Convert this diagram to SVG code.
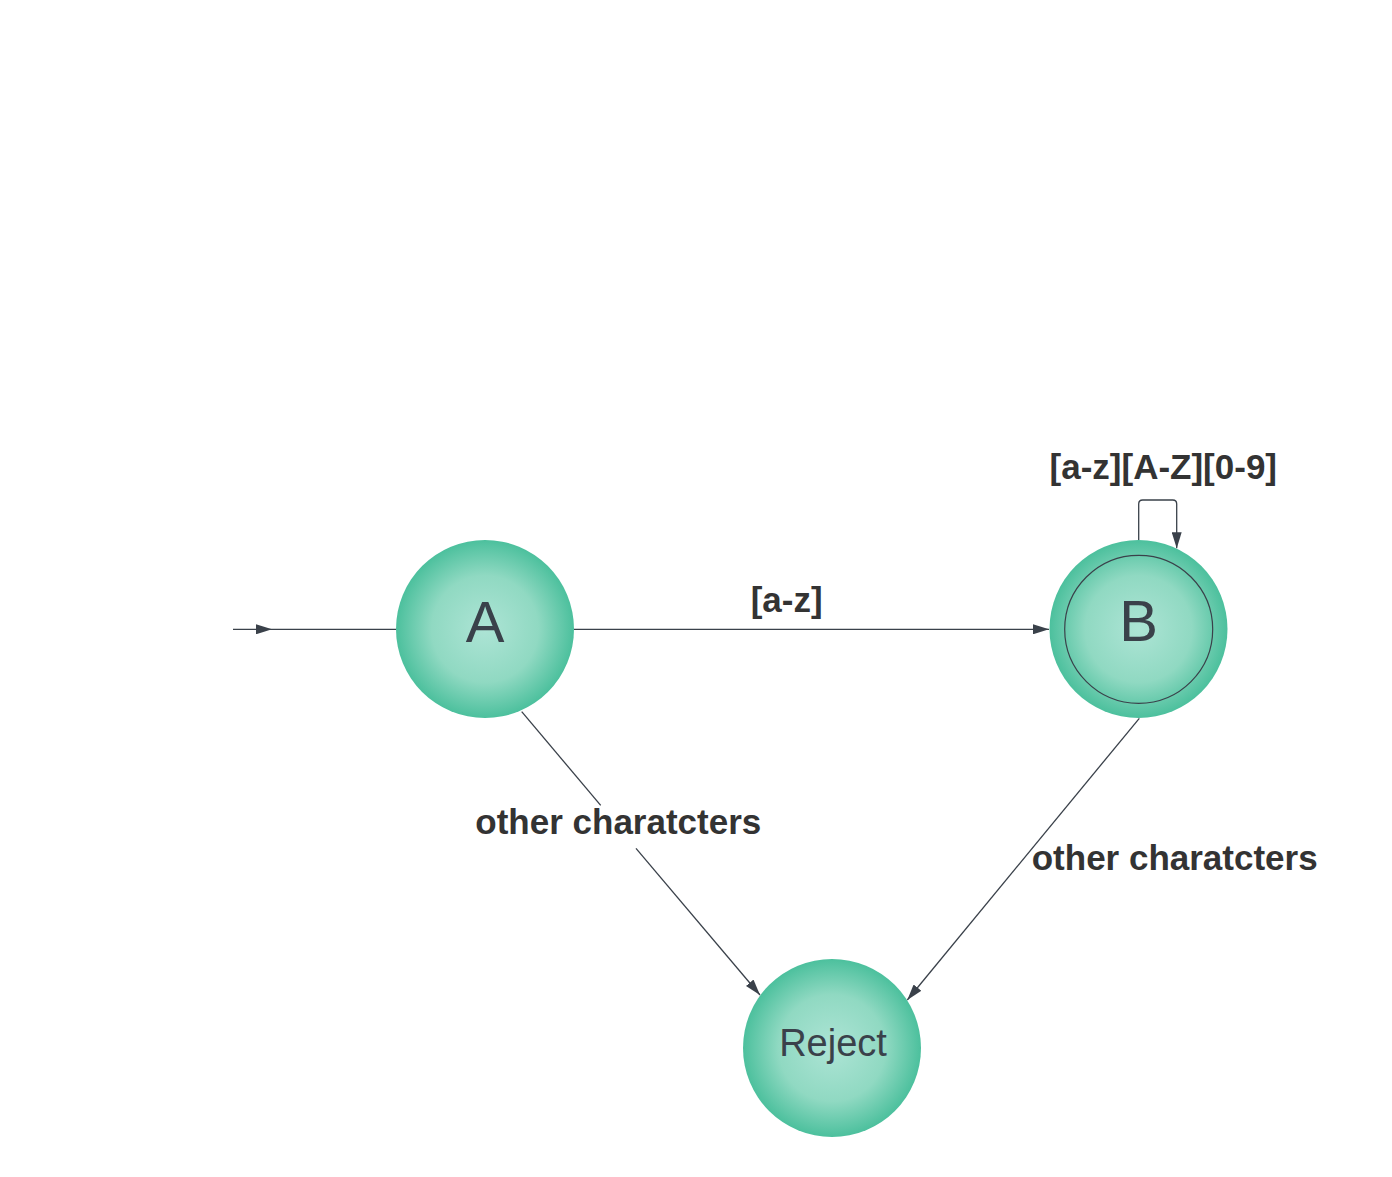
<svg xmlns="http://www.w3.org/2000/svg" width="1392" height="1177" viewBox="0 0 1392 1177">
<style>
.edge{fill:none;stroke:#3a414a;stroke-width:1.3}
.node{fill:url(#g)}
.ntext{font-family:"Liberation Sans",Arial,sans-serif;fill:#3a414a;text-anchor:middle}
.lbl{font-family:"Liberation Sans",Arial,sans-serif;font-weight:bold;font-size:35px;fill:#333333}
</style>
<defs>
<radialGradient id="g" cx="50%" cy="50%" r="50%">
<stop offset="0" stop-color="#ade4d5"/>
<stop offset="0.6" stop-color="#90d9c2"/>
<stop offset="1" stop-color="#4cc09d"/>
</radialGradient>
<marker id="arr" viewBox="0 0 16 10" refX="16" refY="5" markerWidth="16" markerHeight="10" markerUnits="userSpaceOnUse" orient="auto">
<path d="M0 0 L16 5 L0 10 z" fill="#3a414a"/>
</marker>
</defs>
<rect width="1392" height="1177" fill="#ffffff"/>
<g id="connectors">
<path class="edge" d="M233 629.3 H272 H396" marker-mid="url(#arr)"/>
<path class="edge" d="M574 629.3 H1049" marker-end="url(#arr)"/>
<path class="edge" d="M1138.7 540 V504 Q1138.7 500 1142.7 500 H1172.7 Q1176.7 500 1176.7 504 V548.3" marker-end="url(#arr)"/>
<path class="edge" d="M521.7 711.7 L600.7 805.3"/>
<path class="edge" d="M636 848.3 L760 995" marker-end="url(#arr)"/>
<path class="edge" d="M1139.3 718.3 L907.3 1000" marker-end="url(#arr)"/>
<text class="lbl" x="786.7" y="612" text-anchor="middle">[a-z]</text>
<text class="lbl" x="1163.3" y="479" text-anchor="middle">[a-z][A-Z][0-9]</text>
<text class="lbl" x="618.3" y="834" text-anchor="middle">other charatcters</text>
<text class="lbl" x="1174.7" y="870" text-anchor="middle">other charatcters</text>
</g>
<g id="node-A">
<circle class="node" cx="485" cy="629" r="89"/>
<text class="ntext" x="485" y="641.7" font-size="58">A</text>
</g>
<g id="node-B">
<circle class="node" cx="1138.5" cy="629" r="89"/>
<circle cx="1138.7" cy="629.3" r="74" fill="none" stroke="#3a414a" stroke-width="1.2"/>
<text class="ntext" x="1138.7" y="641" font-size="58">B</text>
</g>
<g id="node-Reject">
<circle class="node" cx="832" cy="1048" r="89"/>
<text class="ntext" x="833" y="1056" font-size="38">Reject</text>
</g>
</svg>
